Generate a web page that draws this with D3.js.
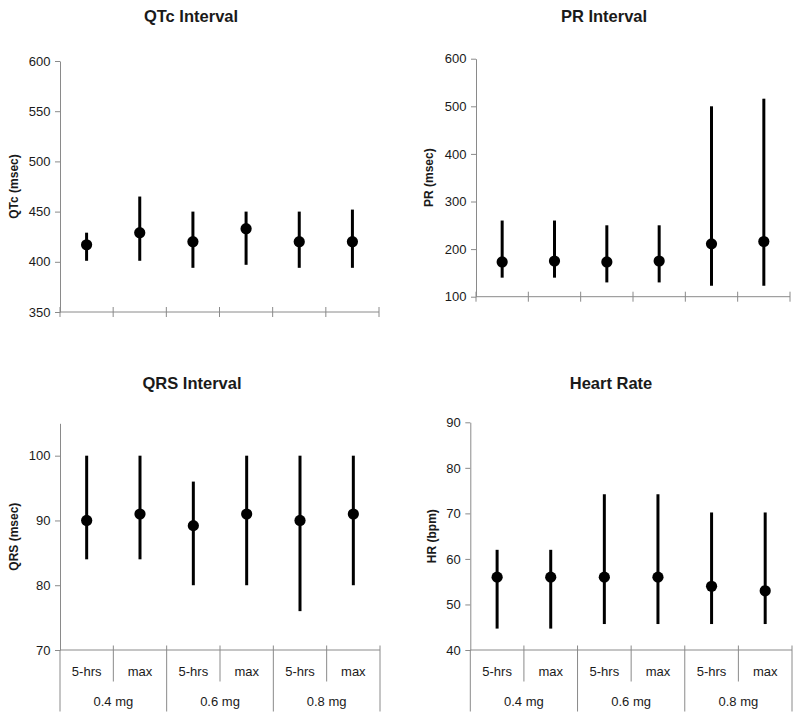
<!DOCTYPE html>
<html>
<head>
<meta charset="utf-8">
<script src="https://cdn.jsdelivr.net/npm/d3@7"></script>
<style>
  html, body { margin: 0; padding: 0; background: #fff; }
  svg { display: block; font-family: "Liberation Sans", Arial, sans-serif; }
</style>
</head>
<body>
<svg id="chart" width="800" height="720"></svg>
<script>
// ---- data ----
const categories = ["5-hrs", "max", "5-hrs", "max", "5-hrs", "max"];
const doseGroups = ["0.4 mg", "0.6 mg", "0.8 mg"];

const qtcMean = [417, 429, 420, 433, 420, 420];
const qtcLow  = [401, 401, 394, 397, 394, 394];
const qtcHigh = [429, 465, 450, 450, 450, 452];
const qtcTicks = [350, 400, 450, 500, 550, 600];

const prMean = [173, 175, 173, 175, 211, 216];
const prLow  = [140, 140, 130, 130, 123, 123];
const prHigh = [260, 260, 250, 250, 500, 516];
const prTicks = [100, 200, 300, 400, 500, 600];

const qrsMean = [90, 91, 89.2, 91, 90, 91];
const qrsLow  = [84, 84, 80, 80, 76, 80];
const qrsHigh = [100, 100, 96, 100, 100, 100];
const qrsTicks = [70, 80, 90, 100];

const hrMean = [56, 56, 56, 56, 54, 53];
const hrLow  = [44.7, 44.7, 45.7, 45.7, 45.7, 45.7];
const hrHigh = [62, 62, 74.2, 74.2, 70.2, 70.2];
const hrTicks = [40, 50, 60, 70, 80, 90];

// ---- drawing ----
const svg = d3.select("#chart");
const AXIS = "#8a8a8a";
const TEXT = "#1a1a1a";

function panel(cfg) {
  const g = svg.append("g");
  const idx = d3.range(categories.length);
  const x = d3.scaleBand().domain(idx).range([cfg.x0, cfg.x1]).padding(0);
  const y = d3.scaleLinear().domain(cfg.domain).range([cfg.yBot, cfg.yTop]);
  const bw = x.bandwidth();

  // title
  g.append("text")
    .attr("x", cfg.titleX).attr("y", cfg.titleY)
    .attr("text-anchor", "middle")
    .attr("font-size", 16.5).attr("font-weight", "bold").attr("fill", TEXT)
    .text(cfg.title);

  // y axis label
  g.append("text")
    .attr("transform", `translate(${cfg.labelX},${(cfg.yTop + cfg.yBot) / 2}) rotate(-90)`)
    .attr("text-anchor", "middle")
    .attr("font-size", 12).attr("font-weight", "bold").attr("fill", TEXT)
    .text(cfg.yLabel);

  // y axis
  const ya = g.append("g")
    .attr("transform", `translate(${cfg.x0},0)`)
    .call(d3.axisLeft(y).tickValues(cfg.ticks).tickSize(5).tickSizeOuter(0).tickPadding(4.5).tickFormat(d3.format("d")));
  ya.select(".domain").attr("stroke", AXIS);
  ya.selectAll(".tick line").attr("stroke", AXIS);
  ya.selectAll(".tick text").attr("font-size", 13).attr("fill", TEXT)
    .attr("font-family", "\"Liberation Sans\", Arial, sans-serif");

  // x axis line
  g.append("line")
    .attr("x1", cfg.x0).attr("x2", cfg.x1)
    .attr("y1", cfg.yBot).attr("y2", cfg.yBot)
    .attr("stroke", AXIS);

  const bounds = d3.range(categories.length + 1).map(i => i < categories.length ? x(i) : cfg.x1);

  if (!cfg.labels) {
    g.selectAll("line.xt").data(bounds).join("line")
      .attr("class", "xt")
      .attr("x1", d => d).attr("x2", d => d)
      .attr("y1", cfg.yBot - 5).attr("y2", cfg.yBot + 5)
      .attr("stroke", AXIS);
  } else {
    g.selectAll("line.xt").data(bounds).join("line")
      .attr("class", "xt")
      .attr("x1", d => d).attr("x2", d => d)
      .attr("y1", (d, i) => i === 0 ? cfg.yBot : cfg.yBot - 4.5)
      .attr("y2", (d, i) => i % 2 === 0 ? cfg.yBot + 61.5 : cfg.yBot + 31.5)
      .attr("stroke", AXIS);
    g.selectAll("text.cat").data(categories).join("text")
      .attr("class", "cat")
      .attr("x", (d, i) => x(i) + bw / 2).attr("y", cfg.yBot + 26)
      .attr("text-anchor", "middle").attr("font-size", 13).attr("fill", TEXT)
      .text(d => d);
    g.selectAll("text.grp").data(doseGroups).join("text")
      .attr("class", "grp")
      .attr("x", (d, i) => x(i * 2) + bw).attr("y", cfg.yBot + 56)
      .attr("text-anchor", "middle").attr("font-size", 13).attr("fill", TEXT)
      .text(d => d);
  }

  // whiskers
  g.selectAll("line.wh").data(idx).join("line")
    .attr("class", "wh")
    .attr("x1", i => x(i) + bw / 2).attr("x2", i => x(i) + bw / 2)
    .attr("y1", i => y(cfg.low[i])).attr("y2", i => y(cfg.high[i]))
    .attr("stroke", "#000").attr("stroke-width", 3);

  // points
  g.selectAll("circle.pt").data(idx).join("circle")
    .attr("class", "pt")
    .attr("cx", i => x(i) + bw / 2).attr("cy", i => y(cfg.mean[i]))
    .attr("r", 5.6).attr("fill", "#000");
}

panel({ title: "QTc Interval", titleX: 191, titleY: 22, yLabel: "QTc (msec)", labelX: 18,
  x0: 60, x1: 379, yTop: 61, yBot: 312, domain: [350, 600], ticks: qtcTicks,
  mean: qtcMean, low: qtcLow, high: qtcHigh, labels: false });

panel({ title: "PR Interval", titleX: 604, titleY: 22, yLabel: "PR (msec)", labelX: 433,
  x0: 476, x1: 790, yTop: 58.7, yBot: 296.7, domain: [100, 600], ticks: prTicks,
  mean: prMean, low: prLow, high: prHigh, labels: false });

panel({ title: "QRS Interval", titleX: 192, titleY: 388.5, yLabel: "QRS (msec)", labelX: 18,
  x0: 60, x1: 380, yTop: 423.3, yBot: 650, domain: [70, 105], ticks: qrsTicks,
  mean: qrsMean, low: qrsLow, high: qrsHigh, labels: true });

panel({ title: "Heart Rate", titleX: 611, titleY: 388.5, yLabel: "HR (bpm)", labelX: 436,
  x0: 470.3, x1: 792, yTop: 422.3, yBot: 650, domain: [40, 90], ticks: hrTicks,
  mean: hrMean, low: hrLow, high: hrHigh, labels: true });
</script>
</body>
</html>
